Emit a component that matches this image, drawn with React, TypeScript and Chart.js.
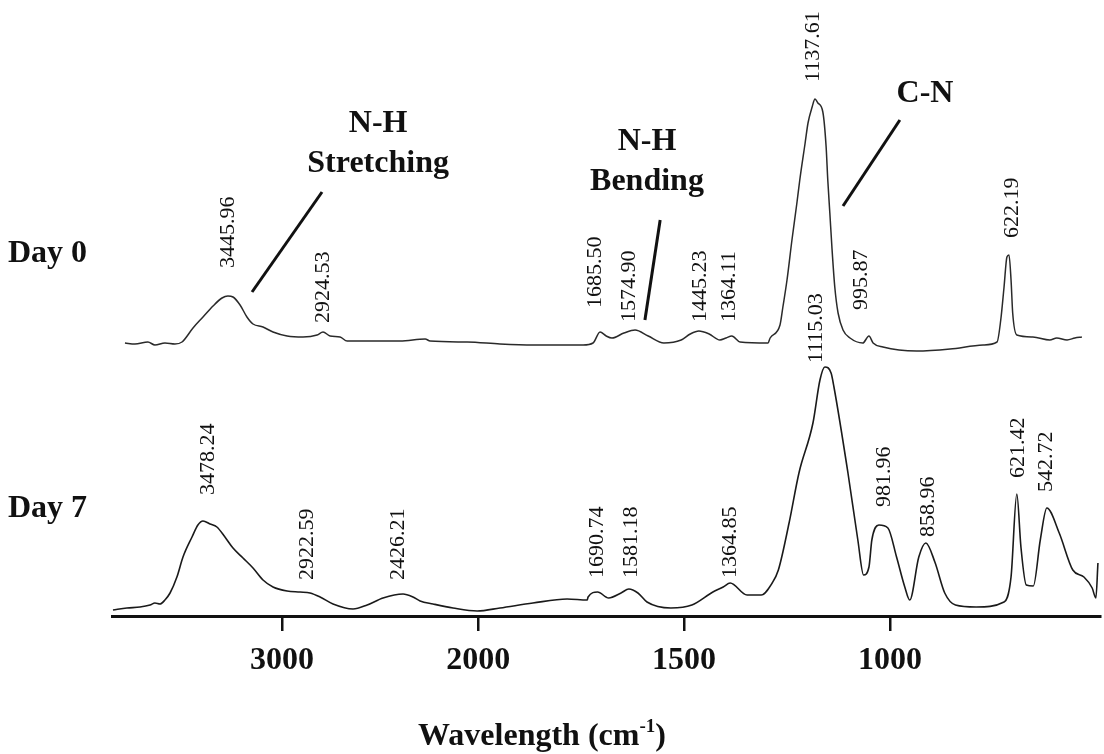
import React, { useEffect, useRef } from "react";
import { Chart, LinearScale, registerables } from "chart.js";

// ---------- data (wavenumber, intensity in a.u.) ----------
const DAY0_X = [3801, 3750, 3684, 3648, 3597, 3546, 3510, 3454, 3403, 3352, 3306, 3276, 3250, 3214, 3179, 3148, 3097, 3046, 2974, 2893, 2821, 2791, 2755, 2704, 2668, 2566, 2398, 2270, 2245, 2056, 1947, 1867, 1745, 1721, 1704, 1689, 1675, 1646, 1619, 1587, 1549, 1507, 1485, 1464, 1439, 1413, 1398, 1384, 1364, 1296, 1291, 1267, 1260, 1250, 1238, 1226, 1219, 1206, 1199, 1189, 1182, 1175, 1163, 1155, 1151, 1146, 1141, 1134, 1126, 1114, 1097, 1066, 1051, 1041, 1017, 935, 854, 774, 740, 731, 723, 716, 711, 706, 702, 692, 653, 612, 595, 570, 551, 534];
const DAY0_Y = [273, 272, 274, 271, 273, 272, 274, 288, 299, 310, 318, 320, 319, 311, 299, 292, 289, 284, 280, 279, 281, 284, 280, 279, 275, 275, 275, 277, 275, 274, 272, 271, 271, 273, 284, 280, 278, 283, 286, 280, 273, 276, 282, 285, 282, 276, 278, 280, 274, 273, 278, 291, 309, 336, 376, 413, 436, 473, 493, 509, 517, 513, 504, 469, 436, 403, 369, 329, 303, 286, 278, 273, 280, 273, 269, 265, 267, 271, 274, 296, 329, 359, 361, 336, 303, 281, 279, 276, 278, 276, 278, 279];

const DAY7_X = [3862, 3791, 3724, 3673, 3648, 3622, 3597, 3571, 3536, 3505, 3459, 3429, 3403, 3367, 3332, 3291, 3250, 3199, 3148, 3097, 3046, 2974, 2908, 2857, 2806, 2740, 2638, 2566, 2485, 2383, 2332, 2296, 2230, 2128, 2005, 1947, 1867, 1784, 1735, 1733, 1710, 1683, 1653, 1634, 1612, 1590, 1532, 1481, 1430, 1405, 1388, 1347, 1313, 1286, 1271, 1245, 1221, 1187, 1170, 1158, 1143, 1136, 1102, 1078, 1064, 1051, 1044, 1027, 1005, 984, 964, 952, 930, 913, 891, 867, 841, 791, 723, 706, 692, 682, 669, 652, 635, 619, 589, 556, 529, 509, 500, 495];
const DAY7_Y = [6, 8, 9, 11, 13, 12, 16, 23, 39, 59, 79, 91, 95, 92, 89, 79, 68, 58, 48, 36, 29, 25, 24, 23, 19, 12, 7, 11, 18, 22, 19, 15, 12, 8, 5, 8, 13, 17, 16, 19, 24, 18, 23, 27, 23, 14, 8, 11, 24, 29, 33, 21, 21, 33, 46, 93, 143, 193, 236, 249, 243, 229, 143, 76, 41, 49, 76, 91, 88, 59, 29, 16, 59, 73, 54, 23, 11, 9, 14, 39, 122, 69, 31, 30, 76, 108, 83, 46, 39, 28, 18, 53];

const TICK_VALUES = [3000, 2000, 1500, 1000];
const X_MIN = 490;
const X_MAX = 3867;
const X_BREAK = 2000;
const X_STRETCH = 2.1; // scale expansion below 2000 cm-1

// peak labels: [text, wavenumber, intensity at label foot]
const DAY0_PEAKS: [string, number, number][] = [
  ["3445.96", 3276, 348],
  ["2924.53", 2791, 293],
  ["1685.50", 1716, 308],
  ["1574.90", 1634, 294],
  ["1445.23", 1460, 294],
  ["1364.11", 1391, 294],
  ["1137.61", 1187, 534],
  ["995.87", 1070, 306],
  ["622.19", 704, 378],
];
const DAY7_PEAKS: [string, number, number][] = [
  ["3478.24", 3378, 121],
  ["2922.59", 2872, 36],
  ["2426.21", 2408, 36],
  ["1690.74", 1711, 38],
  ["1581.18", 1629, 38],
  ["1364.85", 1388, 38],
  ["1115.03", 1180, 253],
  ["981.96", 1015, 109],
  ["858.96", 908, 79],
  ["621.42", 689, 138],
  ["542.72", 621, 124],
];

// group annotations: [lines of text, wavenumber, intensity of first line centre]
const GROUP_TEXT: [string[], number, number][] = [
  [["N-H", "Stretching"], 2510, 492],
  [["N-H", "Bending"], 1590, 474],
  [["C-N"], 915, 522],
];
// pointer lines: [x1, y1, x2, y2] in wavenumber / intensity
const POINTERS: [number, number, number, number][] = [
  [2796, 424, 3153, 324],
  [1558, 396, 1595, 296],
  [976, 496, 1114, 410],
];
const SERIES_NAMES = ["Day 0", "Day 7"];
const AXIS_TITLE = "Wavelength (cm";
const AXIS_TITLE_SUP = "-1";

// ---------- split (broken-scale) x axis ----------
function splitU(v: number, max: number) {
  return v >= X_BREAK ? max - v : max - X_BREAK + (X_BREAK - v) * X_STRETCH;
}
class SplitScale extends LinearScale {
  static id = "split";
  static defaults = { ...(LinearScale as any).defaults };
  getPixelForValue(value: number) {
    if (value === null || value === undefined || isNaN(value)) return NaN;
    const s: any = this;
    const total = splitU(s.min, s.max);
    return s.getPixelForDecimal(splitU(value, s.max) / total);
  }
  getValueForPixel(pixel: number) {
    const s: any = this;
    const total = splitU(s.min, s.max);
    const u = s.getDecimalForPixel(pixel) * total;
    const hi = s.max - X_BREAK;
    return u <= hi ? s.max - u : X_BREAK - (u - hi) / X_STRETCH;
  }
}
Chart.register(...registerables, SplitScale as any);

const SERIF = '"Liberation Serif", "Times New Roman", serif';

const annotate = {
  id: "annotate",
  afterDatasetsDraw(chart: any) {
    const { ctx, scales } = chart;
    const xs = scales.x;
    const ys = scales.y;
    ctx.save();
    ctx.fillStyle = "#111";
    ctx.strokeStyle = "#111";
    // peak labels
    ctx.font = `22px ${SERIF}`;
    [...DAY0_PEAKS, ...DAY7_PEAKS].forEach(([t, wn, v]) => {
      ctx.save();
      ctx.translate(xs.getPixelForValue(wn), ys.getPixelForValue(v));
      ctx.rotate(-Math.PI / 2);
      ctx.textAlign = "left";
      ctx.textBaseline = "middle";
      ctx.fillText(t, 0, 0);
      ctx.restore();
    });
    // group text
    ctx.font = `bold 32px ${SERIF}`;
    ctx.textAlign = "center";
    ctx.textBaseline = "middle";
    GROUP_TEXT.forEach(([lines, wn, v]) => {
      const x = xs.getPixelForValue(wn);
      const y = ys.getPixelForValue(v);
      lines.forEach((l, i) => ctx.fillText(l, x, y + i * 40));
    });
    // pointers
    ctx.lineWidth = 3;
    POINTERS.forEach(([x1, y1, x2, y2]) => {
      ctx.beginPath();
      ctx.moveTo(xs.getPixelForValue(x1), ys.getPixelForValue(y1));
      ctx.lineTo(xs.getPixelForValue(x2), ys.getPixelForValue(y2));
      ctx.stroke();
    });
    // series names
    ctx.textAlign = "left";
    ctx.textBaseline = "alphabetic";
    ctx.fillText(SERIES_NAMES[0], 8, 262);
    ctx.fillText(SERIES_NAMES[1], 8, 517);
    // axis title with superscript
    const big = `bold 32px ${SERIF}`;
    const small = `bold 19px ${SERIF}`;
    ctx.font = big;
    const w1 = ctx.measureText(AXIS_TITLE).width;
    const w3 = ctx.measureText(")").width;
    ctx.font = small;
    const w2 = ctx.measureText(AXIS_TITLE_SUP).width;
    let x = 542 - (w1 + w2 + w3) / 2;
    const base = 745;
    ctx.font = big;
    ctx.fillText(AXIS_TITLE, x, base);
    x += w1;
    ctx.font = small;
    ctx.fillText(AXIS_TITLE_SUP, x, base - 13);
    x += w2;
    ctx.font = big;
    ctx.fillText(")", x, base);
    ctx.restore();
  },
};

export default function App() {
  const ref = useRef<HTMLCanvasElement>(null);
  useEffect(() => {
    if (!ref.current) return;
    const mk = (xsArr: number[], ysArr: number[]) => xsArr.map((x, i) => ({ x, y: ysArr[i] }));
    const chart = new Chart(ref.current, {
      type: "line",
      data: {
        datasets: [
          { label: SERIES_NAMES[0], data: mk(DAY0_X, DAY0_Y), borderColor: "#2a2a2a", borderWidth: 1.5, pointRadius: 0, cubicInterpolationMode: "monotone", fill: false },
          { label: SERIES_NAMES[1], data: mk(DAY7_X, DAY7_Y), borderColor: "#1a1a1a", borderWidth: 1.6, pointRadius: 0, cubicInterpolationMode: "monotone", fill: false },
        ],
      },
      options: {
        responsive: false,
        animation: false,
        events: [],
        layout: { padding: { left: 112, right: 4, top: 0, bottom: 0 } },
        plugins: { legend: { display: false }, tooltip: { enabled: false } },
        scales: {
          x: {
            type: "split" as any,
            min: X_MIN,
            max: X_MAX,
            afterBuildTicks: (axis: any) => {
              axis.ticks = TICK_VALUES.map((value) => ({ value }));
            },
            afterFit: (axis: any) => {
              axis.height = 138;
            },
            ticks: {
              autoSkip: false,
              maxRotation: 0,
              padding: 11,
              color: "#111",
              font: { family: SERIF, size: 32, weight: "bold" },
              callback: (v: any) => String(v),
            },
            grid: { drawOnChartArea: false, drawTicks: true, tickLength: 15, color: "#111", lineWidth: 2.5 },
            border: { display: true, color: "#111", width: 3 },
          },
          y: { type: "linear", display: false, min: 0, max: 616 },
        },
      } as any,
      plugins: [annotate],
    });
    return () => chart.destroy();
  }, []);
  return (
    <div style={{ position: "fixed", left: 0, top: 0, width: 1104, height: 754, background: "#fff" }}>
      <canvas ref={ref} width={1104} height={754} />
    </div>
  );
}
